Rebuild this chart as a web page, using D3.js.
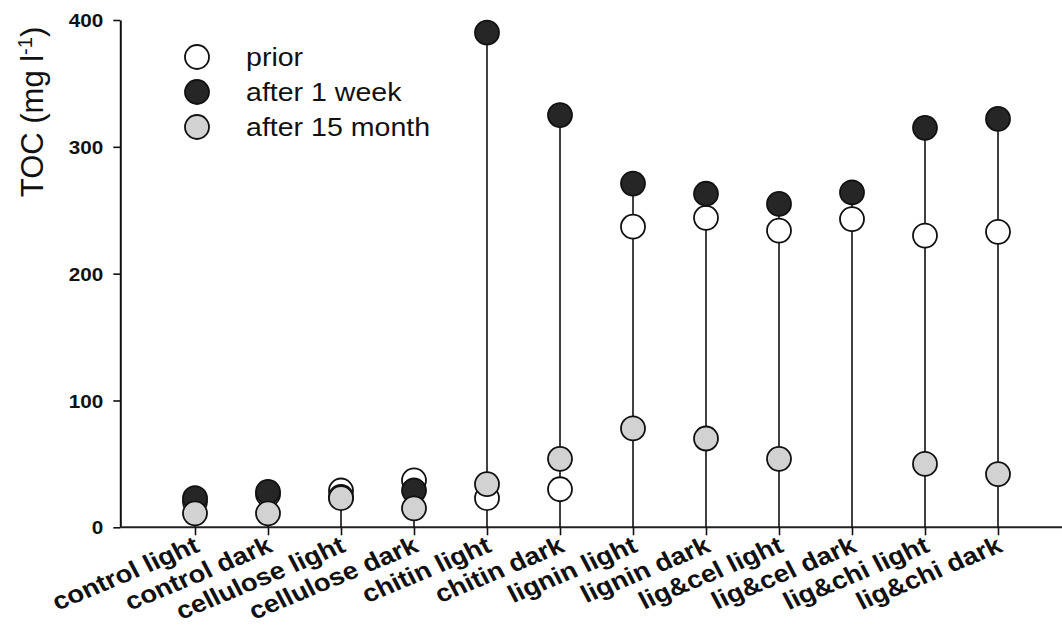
<!DOCTYPE html>
<html>
<head>
<meta charset="utf-8">
<script src="https://cdn.jsdelivr.net/npm/d3@7"></script>
<style>
  html, body { margin: 0; padding: 0; background: #fff; }
  svg { display: block; }
  text { font-family: Arial, "Liberation Sans", Helvetica, sans-serif; fill: #111; }
</style>
</head>
<body>
<svg id="chart" width="1062" height="626"></svg>
<script>
// Treatments along the x axis
const categories = [
  "control light", "control dark", "cellulose light", "cellulose dark",
  "chitin light", "chitin dark", "lignin light", "lignin dark",
  "lig&cel light", "lig&cel dark", "lig&chi light", "lig&chi dark"
];

// TOC (mg l-1) per treatment and sampling time
const prior      = [20, 26, 29, 37, 23, 30, 237, 244, 234, 243, 230, 233];
const afterWeek  = [23, 28, 24, 29, 390, 325, 271, 263, 255, 264, 315, 322];
const afterMonth = [11, 11, 23, 15, 34, 54, 78, 70, 54, null, 50, 42];

const yTicks = [0, 100, 200, 300, 400];

const seriesNames = ["prior", "after 1 week", "after 15 month"];
const seriesFill  = ["#ffffff", "#262626", "#d2d2d2"];

const svg = d3.select("#chart");

const x = d3.scalePoint().domain(categories).range([195, 998]);
const y = d3.scaleLinear().domain([0, 400]).range([527.3, 20]);

const R = 12;
const sx = 1.12; // horizontal stretch of lettering

// y axis
const yAxis = svg.append("g")
  .attr("transform", "translate(120.3,0)")
  .call(d3.axisLeft(y).tickValues(yTicks).tickSize(7).tickSizeOuter(0).tickPadding(0));
yAxis.select(".domain").attr("stroke", "#111").attr("stroke-width", 2);
yAxis.selectAll(".tick line").attr("stroke", "#111").attr("stroke-width", 1.6);
yAxis.selectAll(".tick text")
  .attr("x", null)
  .attr("dy", "0.36em")
  .attr("text-anchor", "end")
  .attr("transform", `translate(-17,0) scale(${sx},1)`)
  .style("font-size", "18.5px")
  .style("font-weight", "bold")
  .attr("fill", "#111");

// x axis baseline spanning the plot
svg.append("line")
  .attr("x1", 120.3).attr("x2", 1062)
  .attr("y1", y(0)).attr("y2", y(0))
  .attr("stroke", "#222").attr("stroke-width", 2);

const xAxis = svg.append("g")
  .attr("transform", `translate(0,${y(0)})`)
  .call(d3.axisBottom(x).tickSize(8).tickSizeOuter(0));
xAxis.select(".domain").remove();
xAxis.selectAll(".tick line").attr("stroke", "#111").attr("stroke-width", 1.6);
xAxis.selectAll(".tick text").remove();

// rotated category labels
svg.append("g").selectAll("text")
  .data(categories)
  .join("text")
  .attr("text-anchor", "end")
  .attr("transform", d => `translate(${x(d) + 6},${551}) scale(${sx},1) rotate(-25)`)
  .style("font-size", "24.5px")
  .style("font-weight", "bold")
  .text(d => d);

// stems from the baseline to the highest value
const rows = categories.map((c, i) => ({
  c,
  vals: [prior[i], afterWeek[i], afterMonth[i]]
}));

svg.append("g").selectAll("line")
  .data(rows)
  .join("line")
  .attr("x1", d => x(d.c)).attr("x2", d => x(d.c))
  .attr("y1", y(0))
  .attr("y2", d => y(d3.max(d.vals.filter(v => v != null))))
  .attr("stroke", "#111").attr("stroke-width", 1.6);

// points: prior first, then after 1 week, then after 15 month on top
[prior, afterWeek, afterMonth].forEach((vals, s) => {
  svg.append("g").selectAll("circle")
    .data(categories.map((c, i) => ({ c, v: vals[i] })).filter(d => d.v != null))
    .join("circle")
    .attr("cx", d => x(d.c))
    .attr("cy", d => y(d.v))
    .attr("r", R)
    .attr("fill", seriesFill[s])
    .attr("stroke", "#111")
    .attr("stroke-width", 1.8);
});

// legend
const legend = svg.append("g");
seriesNames.forEach((name, s) => {
  const cy = 57 + s * 35;
  legend.append("circle")
    .attr("cx", 197).attr("cy", cy).attr("r", R)
    .attr("fill", seriesFill[s]).attr("stroke", "#111").attr("stroke-width", 1.8);
  legend.append("text")
    .attr("transform", `translate(246,${cy + 9}) scale(${sx},1)`)
    .style("font-size", "25.5px")
    .text(name);
});

// y axis title
const yTitle = svg.append("text")
  .attr("transform", "translate(43,112) rotate(-90)")
  .attr("text-anchor", "middle")
  .style("font-size", "31px");
yTitle.append("tspan").text("TOC (mg l");
yTitle.append("tspan").attr("baseline-shift", "super").style("font-size", "20px").text("-1");
yTitle.append("tspan").text(")");
</script>
</body>
</html>
